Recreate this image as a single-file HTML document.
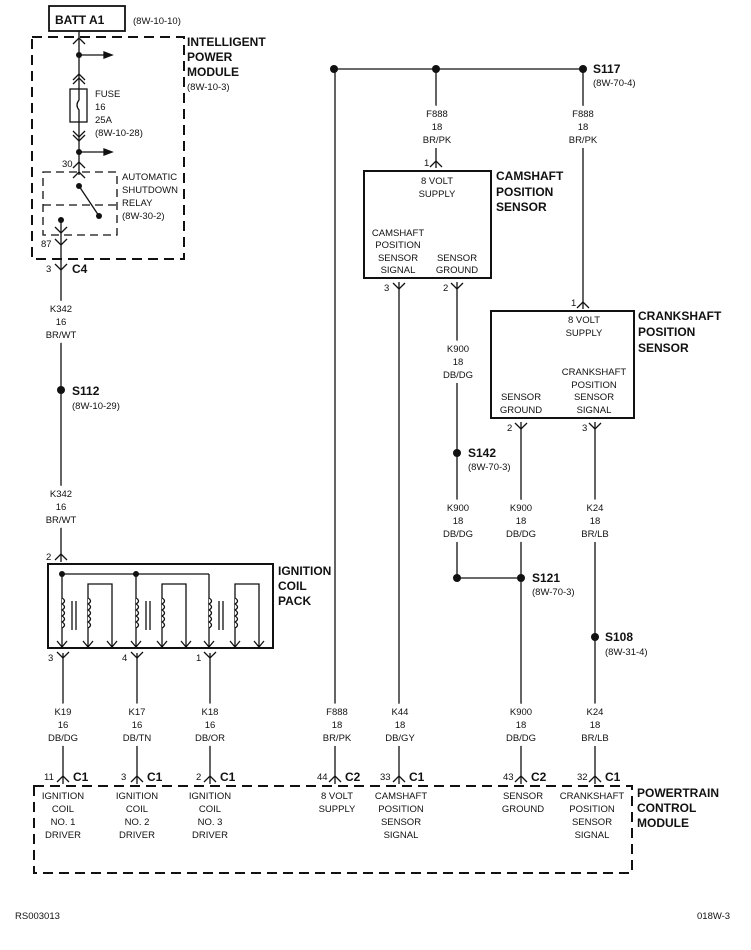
<!DOCTYPE html>
<html><head><meta charset="utf-8"><style>
html,body{margin:0;padding:0;background:#fff}
svg{display:block}
text{font-family:"Liberation Sans",sans-serif;fill:#111}
.s{font-size:9.5px}
.b{font-size:12px;font-weight:bold}
.w{font-size:9.5px;paint-order:stroke;stroke:#fff;stroke-width:10px;stroke-linejoin:round}
</style></head><body>
<svg width="751" height="950" viewBox="0 0 751 950" xmlns="http://www.w3.org/2000/svg">
<g stroke="#111" fill="none" stroke-width="1.3">
<rect x="49" y="6" width="76" height="25" stroke-width="1.8"/>
<rect x="32" y="37" width="152" height="222" stroke-dasharray="10,6" stroke-width="2"/>
<line x1="79" y1="31" x2="79" y2="175"/>
<path d="M73 44 L79 38 L85 44"/>
<line x1="79" y1="55" x2="108" y2="55"/><path d="M104 52 L112 55 L104 58Z" fill="#111"/>
<path d="M73 80 L79 74 L85 80 M73 84 L79 78 L85 84"/>
<rect x="70" y="89" width="17" height="33" fill="#fff"/>
<path d="M79 89 L79 100 Q75 105 79 110 L79 122"/>
<path d="M73 131 L79 137 L85 131 M73 135 L79 141 L85 135"/>
<line x1="79" y1="152" x2="108" y2="152"/><path d="M104 149 L112 152 L104 155Z" fill="#111"/>
<path d="M73 168 L79 162 L85 168 M73 178 L79 172 L85 178"/>
<rect x="43" y="172" width="74" height="63" stroke-dasharray="8,5"/>
<line x1="43" y1="205" x2="117" y2="205" stroke-dasharray="8,5"/>
<line x1="79" y1="186" x2="99" y2="216"/>
<line x1="61" y1="220" x2="61" y2="562"/>
<path d="M55 227 L61 233 L67 227 M55 239 L61 245 L67 239"/>
<path d="M55 264 L61 270 L67 264"/>
<path d="M55 560 L61 554 L67 560"/>
<rect x="48" y="564" width="225" height="84" stroke-width="2"/>
<line x1="62" y1="574" x2="209" y2="574"/>
<line x1="209" y1="574" x2="209" y2="648"/>
<line x1="62" y1="574" x2="62" y2="648"/>
<line x1="136" y1="574" x2="136" y2="648"/>
<path d="M88 648 L88 584 L112 584 L112 648"/>
<path d="M162 648 L162 584 L186 584 L186 648"/>
<path d="M235 648 L235 584 L259 584 L259 648"/>
<g fill="#fff">
<path d="M62 598 q5 3 0 6 q5 3 0 6 q5 3 0 6 q5 3 0 6 q5 3 0 6"/>
<path d="M88 598 q5 3 0 6 q5 3 0 6 q5 3 0 6 q5 3 0 6 q5 3 0 6"/>
<path d="M136 598 q5 3 0 6 q5 3 0 6 q5 3 0 6 q5 3 0 6 q5 3 0 6"/>
<path d="M162 598 q5 3 0 6 q5 3 0 6 q5 3 0 6 q5 3 0 6 q5 3 0 6"/>
<path d="M209 598 q5 3 0 6 q5 3 0 6 q5 3 0 6 q5 3 0 6 q5 3 0 6"/>
<path d="M235 598 q5 3 0 6 q5 3 0 6 q5 3 0 6 q5 3 0 6 q5 3 0 6"/>
</g>
<path d="M72 601 V630 M76 601 V630 M146 601 V630 M150 601 V630 M219 601 V630 M223 601 V630"/>
<path d="M57 641 L62 647 L67 641 M83 641 L88 647 L93 641 M107 641 L112 647 L117 641 M131 641 L136 647 L141 641 M157 641 L162 647 L167 641 M181 641 L186 647 L191 641 M204 641 L209 647 L214 641 M230 641 L235 647 L240 641 M254 641 L259 647 L264 641"/>
<line x1="63" y1="653" x2="63" y2="784"/><line x1="137" y1="653" x2="137" y2="784"/><line x1="210" y1="653" x2="210" y2="784"/>
<path d="M57 652 L63 658 L69 652 M131 652 L137 658 L143 652 M204 652 L210 658 L216 652"/>
<line x1="334" y1="69" x2="583" y2="69"/>
<line x1="335" y1="69" x2="335" y2="784"/>
<line x1="436" y1="69" x2="436" y2="168"/>
<path d="M430 167 L436 161 L442 167"/>
<line x1="583" y1="69" x2="583" y2="309"/>
<path d="M577 308 L583 302 L589 308"/>
<rect x="364" y="171" width="127" height="107" stroke-width="2"/>
<line x1="399" y1="282" x2="399" y2="784"/>
<path d="M393 283 L399 289 L405 283"/>
<line x1="457" y1="282" x2="457" y2="578"/>
<path d="M451 283 L457 289 L463 283"/>
<rect x="491" y="311" width="143" height="107" stroke-width="2"/>
<line x1="521" y1="422" x2="521" y2="784"/>
<path d="M515 423 L521 429 L527 423"/>
<line x1="595" y1="422" x2="595" y2="784"/>
<path d="M589 423 L595 429 L601 423"/>
<line x1="457" y1="578" x2="521" y2="578"/>
<path d="M57 782 L63 776 L69 782 M131 782 L137 776 L143 782 M204 782 L210 776 L216 782 M329 782 L335 776 L341 782 M393 782 L399 776 L405 782 M515 782 L521 776 L527 782 M589 782 L595 776 L601 782"/>
<rect x="34" y="786" width="598" height="87" stroke-dasharray="10,6" stroke-width="2"/>
</g>
<g fill="#111">
<circle cx="79" cy="55" r="3"/><circle cx="79" cy="152" r="3"/><circle cx="79" cy="186" r="3"/><circle cx="99" cy="216" r="3"/><circle cx="61" cy="220" r="3"/>
<circle cx="61" cy="390" r="4"/>
<circle cx="62" cy="574" r="3"/><circle cx="136" cy="574" r="3"/>
<circle cx="334" cy="69" r="4"/><circle cx="436" cy="69" r="4"/><circle cx="583" cy="69" r="4"/>
<circle cx="457" cy="453" r="4"/><circle cx="457" cy="578" r="4"/><circle cx="521" cy="578" r="4"/><circle cx="595" cy="637" r="4"/>
</g>
<text x="55" y="24" class="b" font-size="13">BATT A1</text>
<text x="133" y="24" class="s">(8W-10-10)</text>
<text x="187" y="46" class="b">INTELLIGENT</text>
<text x="187" y="61" class="b">POWER</text>
<text x="187" y="76" class="b">MODULE</text>
<text x="187" y="90" class="s">(8W-10-3)</text>
<text x="95" y="97" class="s">FUSE</text><text x="95" y="110" class="s">16</text><text x="95" y="123" class="s">25A</text><text x="95" y="136" class="s">(8W-10-28)</text>
<text x="62" y="167" class="s">30</text>
<text x="122" y="180" class="s">AUTOMATIC</text><text x="122" y="193" class="s">SHUTDOWN</text><text x="122" y="206" class="s">RELAY</text><text x="122" y="219" class="s">(8W-30-2)</text>
<text x="41" y="247" class="s">87</text>
<text x="46" y="272" class="s">3</text><text x="72" y="273" class="b">C4</text>
<g text-anchor="middle">
<text x="61" y="312" class="w">K342</text><text x="61" y="325" class="w">16</text><text x="61" y="338" class="w">BR/WT</text>
<text x="61" y="497" class="w">K342</text><text x="61" y="510" class="w">16</text><text x="61" y="523" class="w">BR/WT</text>
<text x="63" y="715" class="w">K19</text><text x="63" y="728" class="w">16</text><text x="63" y="741" class="w">DB/DG</text>
<text x="137" y="715" class="w">K17</text><text x="137" y="728" class="w">16</text><text x="137" y="741" class="w">DB/TN</text>
<text x="210" y="715" class="w">K18</text><text x="210" y="728" class="w">16</text><text x="210" y="741" class="w">DB/OR</text>
<text x="337" y="715" class="w">F888</text><text x="337" y="728" class="w">18</text><text x="337" y="741" class="w">BR/PK</text>
<text x="400" y="715" class="w">K44</text><text x="400" y="728" class="w">18</text><text x="400" y="741" class="w">DB/GY</text>
<text x="521" y="715" class="w">K900</text><text x="521" y="728" class="w">18</text><text x="521" y="741" class="w">DB/DG</text>
<text x="595" y="715" class="w">K24</text><text x="595" y="728" class="w">18</text><text x="595" y="741" class="w">BR/LB</text>
<text x="437" y="117" class="w">F888</text><text x="437" y="130" class="w">18</text><text x="437" y="143" class="w">BR/PK</text>
<text x="583" y="117" class="w">F888</text><text x="583" y="130" class="w">18</text><text x="583" y="143" class="w">BR/PK</text>
<text x="458" y="352" class="w">K900</text><text x="458" y="365" class="w">18</text><text x="458" y="378" class="w">DB/DG</text>
<text x="458" y="511" class="w">K900</text><text x="458" y="524" class="w">18</text><text x="458" y="537" class="w">DB/DG</text>
<text x="521" y="511" class="w">K900</text><text x="521" y="524" class="w">18</text><text x="521" y="537" class="w">DB/DG</text>
<text x="595" y="511" class="w">K24</text><text x="595" y="524" class="w">18</text><text x="595" y="537" class="w">BR/LB</text>
<text x="437" y="184" class="s">8 VOLT</text><text x="437" y="197" class="s">SUPPLY</text>
<text x="398" y="236" class="s">CAMSHAFT</text><text x="398" y="248" class="s">POSITION</text><text x="398" y="261" class="s">SENSOR</text><text x="398" y="273" class="s">SIGNAL</text>
<text x="457" y="261" class="s">SENSOR</text><text x="457" y="273" class="s">GROUND</text>
<text x="584" y="323" class="s">8 VOLT</text><text x="584" y="336" class="s">SUPPLY</text>
<text x="521" y="400" class="s">SENSOR</text><text x="521" y="413" class="s">GROUND</text>
<text x="594" y="375" class="s">CRANKSHAFT</text><text x="594" y="388" class="s">POSITION</text><text x="594" y="400" class="s">SENSOR</text><text x="594" y="413" class="s">SIGNAL</text>
<text x="63" y="799" class="s">IGNITION</text><text x="63" y="812" class="s">COIL</text><text x="63" y="825" class="s">NO. 1</text><text x="63" y="838" class="s">DRIVER</text>
<text x="137" y="799" class="s">IGNITION</text><text x="137" y="812" class="s">COIL</text><text x="137" y="825" class="s">NO. 2</text><text x="137" y="838" class="s">DRIVER</text>
<text x="210" y="799" class="s">IGNITION</text><text x="210" y="812" class="s">COIL</text><text x="210" y="825" class="s">NO. 3</text><text x="210" y="838" class="s">DRIVER</text>
<text x="337" y="799" class="s">8 VOLT</text><text x="337" y="812" class="s">SUPPLY</text>
<text x="401" y="799" class="s">CAMSHAFT</text><text x="401" y="812" class="s">POSITION</text><text x="401" y="825" class="s">SENSOR</text><text x="401" y="838" class="s">SIGNAL</text>
<text x="523" y="799" class="s">SENSOR</text><text x="523" y="812" class="s">GROUND</text>
<text x="592" y="799" class="s">CRANKSHAFT</text><text x="592" y="812" class="s">POSITION</text><text x="592" y="825" class="s">SENSOR</text><text x="592" y="838" class="s">SIGNAL</text>
</g>
<text x="72" y="395" class="b">S112</text><text x="72" y="409" class="s">(8W-10-29)</text>
<text x="46" y="560" class="s">2</text>
<text x="278" y="575" class="b">IGNITION</text><text x="278" y="590" class="b">COIL</text><text x="278" y="605" class="b">PACK</text>
<text x="48" y="661" class="s">3</text><text x="122" y="661" class="s">4</text><text x="196" y="661" class="s">1</text>
<text x="593" y="73" class="b">S117</text><text x="593" y="86" class="s">(8W-70-4)</text>
<text x="424" y="166" class="s">1</text>
<text x="496" y="180" class="b">CAMSHAFT</text><text x="496" y="196" class="b">POSITION</text><text x="496" y="211" class="b">SENSOR</text>
<text x="384" y="291" class="s">3</text><text x="443" y="291" class="s">2</text>
<text x="571" y="306" class="s">1</text>
<text x="638" y="320" class="b">CRANKSHAFT</text><text x="638" y="336" class="b">POSITION</text><text x="638" y="352" class="b">SENSOR</text>
<text x="507" y="431" class="s">2</text><text x="582" y="431" class="s">3</text>
<text x="468" y="457" class="b">S142</text><text x="468" y="470" class="s">(8W-70-3)</text>
<text x="532" y="582" class="b">S121</text><text x="532" y="595" class="s">(8W-70-3)</text>
<text x="605" y="641" class="b">S108</text><text x="605" y="655" class="s">(8W-31-4)</text>
<text x="44" y="780" class="s">11</text><text x="73" y="781" class="b">C1</text>
<text x="121" y="780" class="s">3</text><text x="147" y="781" class="b">C1</text>
<text x="196" y="780" class="s">2</text><text x="220" y="781" class="b">C1</text>
<text x="317" y="780" class="s">44</text><text x="345" y="781" class="b">C2</text>
<text x="380" y="780" class="s">33</text><text x="409" y="781" class="b">C1</text>
<text x="503" y="780" class="s">43</text><text x="531" y="781" class="b">C2</text>
<text x="577" y="780" class="s">32</text><text x="605" y="781" class="b">C1</text>
<text x="637" y="797" class="b">POWERTRAIN</text><text x="637" y="812" class="b">CONTROL</text><text x="637" y="827" class="b">MODULE</text>
<text x="15" y="919" class="s">RS003013</text>
<text x="697" y="919" class="s">018W-3</text>
</svg>
</body></html>
